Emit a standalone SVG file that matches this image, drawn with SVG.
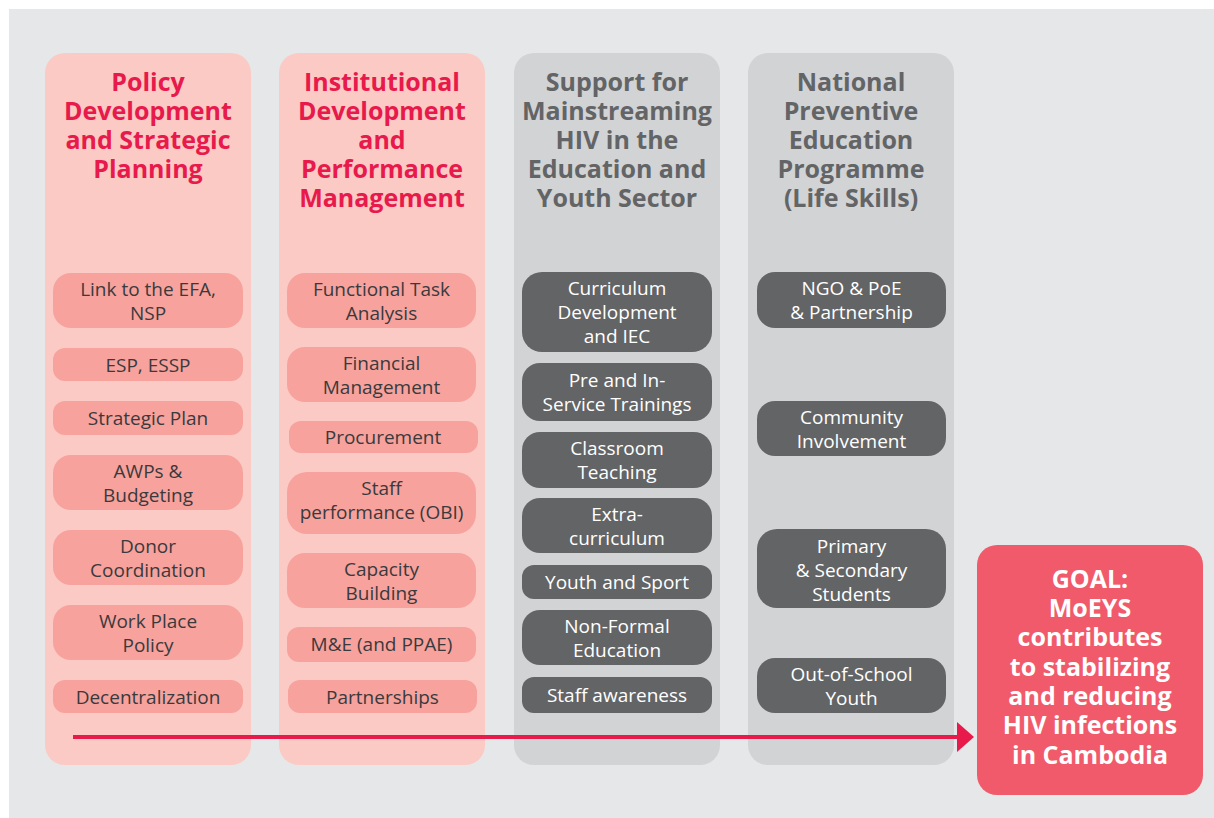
<svg xmlns="http://www.w3.org/2000/svg" width="1214" height="818" viewBox="0 0 1214 818">
<style>
.colP{fill:#fbcac5}
.colG{fill:#d2d3d5}
.pp{fill:#f7a29d}
.pg{fill:#636466}
.tp{font-family:"Open Sans","Liberation Sans",sans-serif;font-size:19px;fill:#3a3a3c;text-anchor:middle}
.tg{font-family:"Open Sans","Liberation Sans",sans-serif;font-size:19px;fill:#ffffff;text-anchor:middle}
.hr{font-family:"Open Sans","Liberation Sans",sans-serif;font-size:25px;font-weight:bold;fill:#e8194b;text-anchor:middle}
.hg{font-family:"Open Sans","Liberation Sans",sans-serif;font-size:25px;font-weight:bold;fill:#636466;text-anchor:middle}
.goal{font-family:"Open Sans","Liberation Sans",sans-serif;font-size:25px;font-weight:bold;fill:#ffffff;text-anchor:middle}
</style>
<rect width="1214" height="818" fill="#ffffff"/>
<rect x="9" y="9" width="1205" height="809" fill="#e6e7e8"/>

<g id="col1">
<rect class="colP" x="45" y="53" width="206" height="712" rx="20"/>
<text class="hr" x="148"><tspan x="148" y="91">Policy</tspan><tspan x="148" y="120">Development</tspan><tspan x="148" y="149">and Strategic</tspan><tspan x="148" y="178">Planning</tspan></text>
</g>
<g id="col2">
<rect class="colP" x="279" y="53" width="206" height="712" rx="20"/>
<text class="hr" x="382"><tspan x="382" y="91">Institutional</tspan><tspan x="382" y="120">Development</tspan><tspan x="382" y="149">and</tspan><tspan x="382" y="178">Performance</tspan><tspan x="382" y="207">Management</tspan></text>
</g>
<g id="col3">
<rect class="colG" x="514" y="53" width="206" height="712" rx="20"/>
<text class="hg" x="617"><tspan x="617" y="91">Support for</tspan><tspan x="617" y="120">Mainstreaming</tspan><tspan x="617" y="149">HIV in the</tspan><tspan x="617" y="178">Education and</tspan><tspan x="617" y="207">Youth Sector</tspan></text>
</g>
<g id="col4">
<rect class="colG" x="748" y="53" width="206" height="712" rx="20"/>
<text class="hg" x="851"><tspan x="851" y="91">National</tspan><tspan x="851" y="120">Preventive</tspan><tspan x="851" y="149">Education</tspan><tspan x="851" y="178">Programme</tspan><tspan x="851" y="207">(Life Skills)</tspan></text>
</g>

<g id="connectors">
<line x1="73" y1="737" x2="959" y2="737" stroke="#e8194b" stroke-width="4"/>
<polygon points="957,722 974,737 957,752" fill="#e8194b"/>
</g>

<!-- column 1 pills -->
<g id="n-link"><rect class="pp" x="53" y="273" width="190" height="55" rx="18"/><text class="tp"><tspan x="148" y="295.5">Link to the EFA,</tspan><tspan x="148" y="319.5">NSP</tspan></text></g>
<g id="n-esp"><rect class="pp" x="53" y="348" width="190" height="33" rx="12"/><text class="tp" x="148" y="371.5">ESP, ESSP</text></g>
<g id="n-strat"><rect class="pp" x="53" y="401" width="190" height="34" rx="12"/><text class="tp" x="148" y="425">Strategic Plan</text></g>
<g id="n-awp"><rect class="pp" x="53" y="455" width="190" height="55" rx="18"/><text class="tp"><tspan x="148" y="477.5">AWPs &amp;</tspan><tspan x="148" y="501.5">Budgeting</tspan></text></g>
<g id="n-donor"><rect class="pp" x="53" y="530" width="190" height="55" rx="18"/><text class="tp"><tspan x="148" y="552.5">Donor</tspan><tspan x="148" y="576.5">Coordination</tspan></text></g>
<g id="n-work"><rect class="pp" x="53" y="605" width="190" height="55" rx="18"/><text class="tp"><tspan x="148" y="627.5">Work Place</tspan><tspan x="148" y="651.5">Policy</tspan></text></g>
<g id="n-decent"><rect class="pp" x="53" y="680" width="190" height="33" rx="12"/><text class="tp" x="148" y="703.5">Decentralization</text></g>

<!-- column 2 pills -->
<g id="n-fta"><rect class="pp" x="287" y="273" width="189" height="55" rx="18"/><text class="tp"><tspan x="381.5" y="295.5">Functional Task</tspan><tspan x="381.5" y="319.5">Analysis</tspan></text></g>
<g id="n-fin"><rect class="pp" x="287" y="347" width="189" height="55" rx="18"/><text class="tp"><tspan x="381.5" y="369.5">Financial</tspan><tspan x="381.5" y="393.5">Management</tspan></text></g>
<g id="n-proc"><rect class="pp" x="289" y="421" width="189" height="32" rx="12"/><text class="tp" x="383" y="444">Procurement</text></g>
<g id="n-staff"><rect class="pp" x="287" y="472" width="189" height="62" rx="20"/><text class="tp"><tspan x="381.5" y="495">Staff</tspan><tspan x="381.5" y="519">performance (OBI)</tspan></text></g>
<g id="n-cap"><rect class="pp" x="287" y="553" width="189" height="55" rx="18"/><text class="tp"><tspan x="381.5" y="575.5">Capacity</tspan><tspan x="381.5" y="599.5">Building</tspan></text></g>
<g id="n-me"><rect class="pp" x="287" y="627" width="189" height="35" rx="12"/><text class="tp" x="381.5" y="651">M&amp;E (and PPAE)</text></g>
<g id="n-part"><rect class="pp" x="288" y="680" width="189" height="33" rx="12"/><text class="tp" x="382.5" y="703.5">Partnerships</text></g>

<!-- column 3 pills -->
<g id="n-curr"><rect class="pg" x="522" y="272" width="190" height="80" rx="20"/><text class="tg"><tspan x="617" y="295">Curriculum</tspan><tspan x="617" y="319">Development</tspan><tspan x="617" y="343">and IEC</tspan></text></g>
<g id="n-pre"><rect class="pg" x="522" y="363" width="190" height="58" rx="18"/><text class="tg"><tspan x="617" y="387">Pre and In-</tspan><tspan x="617" y="411">Service Trainings</tspan></text></g>
<g id="n-class"><rect class="pg" x="522" y="432" width="190" height="56" rx="18"/><text class="tg"><tspan x="617" y="455">Classroom</tspan><tspan x="617" y="479">Teaching</tspan></text></g>
<g id="n-extra"><rect class="pg" x="522" y="498" width="190" height="55" rx="18"/><text class="tg"><tspan x="617" y="520.5">Extra-</tspan><tspan x="617" y="544.5">curriculum</tspan></text></g>
<g id="n-youth"><rect class="pg" x="522" y="565" width="190" height="34" rx="12"/><text class="tg" x="617" y="589">Youth and Sport</text></g>
<g id="n-nfe"><rect class="pg" x="522" y="610" width="190" height="55" rx="18"/><text class="tg"><tspan x="617" y="632.5">Non-Formal</tspan><tspan x="617" y="656.5">Education</tspan></text></g>
<g id="n-sa"><rect class="pg" x="522" y="677" width="190" height="36" rx="12"/><text class="tg" x="617" y="702">Staff awareness</text></g>

<!-- column 4 pills -->
<g id="n-ngo"><rect class="pg" x="757" y="272" width="189" height="56" rx="18"/><text class="tg"><tspan x="851.5" y="295">NGO &amp; PoE</tspan><tspan x="851.5" y="319">&amp; Partnership</tspan></text></g>
<g id="n-comm"><rect class="pg" x="757" y="401" width="189" height="55" rx="18"/><text class="tg"><tspan x="851.5" y="423.5">Community</tspan><tspan x="851.5" y="447.5">Involvement</tspan></text></g>
<g id="n-prim"><rect class="pg" x="757" y="529" width="189" height="79" rx="20"/><text class="tg"><tspan x="851.5" y="552.5">Primary</tspan><tspan x="851.5" y="576.5">&amp; Secondary</tspan><tspan x="851.5" y="600.5">Students</tspan></text></g>
<g id="n-oos"><rect class="pg" x="757" y="658" width="189" height="55" rx="18"/><text class="tg"><tspan x="851.5" y="680.5">Out-of-School</tspan><tspan x="851.5" y="704.5">Youth</tspan></text></g>

<g id="goal">
<rect x="977" y="545" width="226" height="250" rx="20" fill="#f15a6a"/>
<text class="goal"><tspan x="1090" y="588">GOAL:</tspan><tspan x="1090" y="617">MoEYS</tspan><tspan x="1090" y="646">contributes</tspan><tspan x="1090" y="676">to stabilizing</tspan><tspan x="1090" y="705">and reducing</tspan><tspan x="1090" y="734">HIV infections</tspan><tspan x="1090" y="764">in Cambodia</tspan></text>
</g>
</svg>
